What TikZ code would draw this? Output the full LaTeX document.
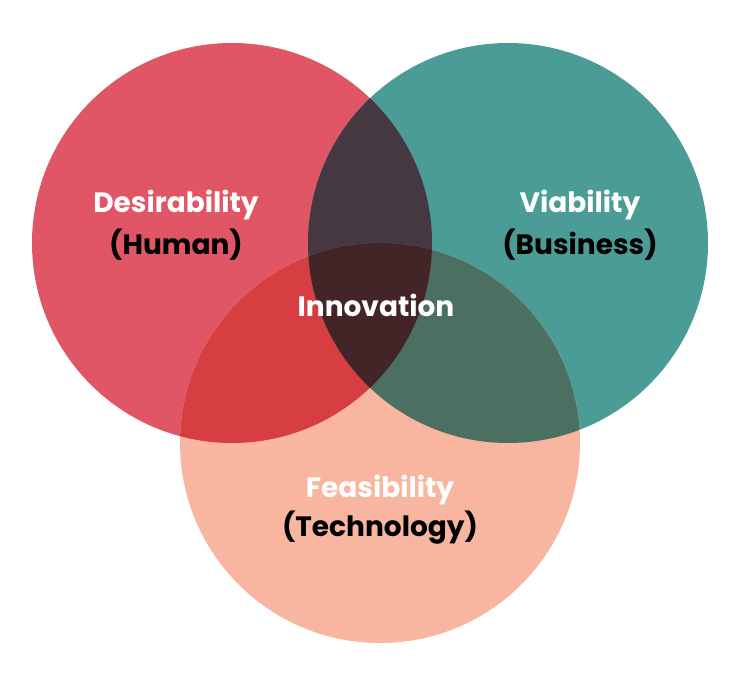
\documentclass[tikz,border=0pt]{standalone}
\usepackage{fontspec}
\setmainfont{Poppins}
\definecolor{cred}{HTML}{E05666}
\definecolor{cteal}{HTML}{4B9C97}
\definecolor{csalm}{HTML}{F8B5A0}
\definecolor{crt}{HTML}{463841}
\definecolor{crs}{HTML}{D73E41}
\definecolor{cts}{HTML}{4B7061}
\definecolor{call}{HTML}{432427}
\tikzset{
  lbl/.style={font=\fontsize{28}{30}\selectfont\bfseries, text=white, inner sep=0pt},
  sub/.style={font=\fontsize{28}{30}\selectfont\bfseries, text=black, inner sep=0pt}
}
\begin{document}
\begin{tikzpicture}[x=1pt,y=-1pt]
\useasboundingbox (0,0) rectangle (736,672);
\fill[white] (0,0) rectangle (736,672);
\def\R{200}
\fill[cred] (232,243) circle (\R);
\fill[cteal] (508,243) circle (\R);
\fill[csalm] (380,443) circle (\R);
\begin{scope}
  \clip (232,243) circle (\R);
  \fill[crt] (508,243) circle (\R);
  \fill[crs] (380,443) circle (\R);
\end{scope}
\begin{scope}
  \clip (508,243) circle (\R);
  \fill[cts] (380,443) circle (\R);
\end{scope}
\begin{scope}
  \clip (232,243) circle (\R);
  \clip (508,243) circle (\R);
  \fill[call] (380,443) circle (\R);
\end{scope}
\node[lbl] (des) at (176,205) {Desirability};
\node[sub] (hum) at (176,245) {(Human)};
\node[lbl] (via) at (580,205) {Viability};
\node[sub] (bus) at (580,245) {(Business)};
\node[lbl] (inn) at (376,305) {Innovation};
\node[lbl] (fea) at (380,490) {Feasibility};
\node[sub] (tec) at (380,528) {(Technology)};
\end{tikzpicture}
\end{document}
